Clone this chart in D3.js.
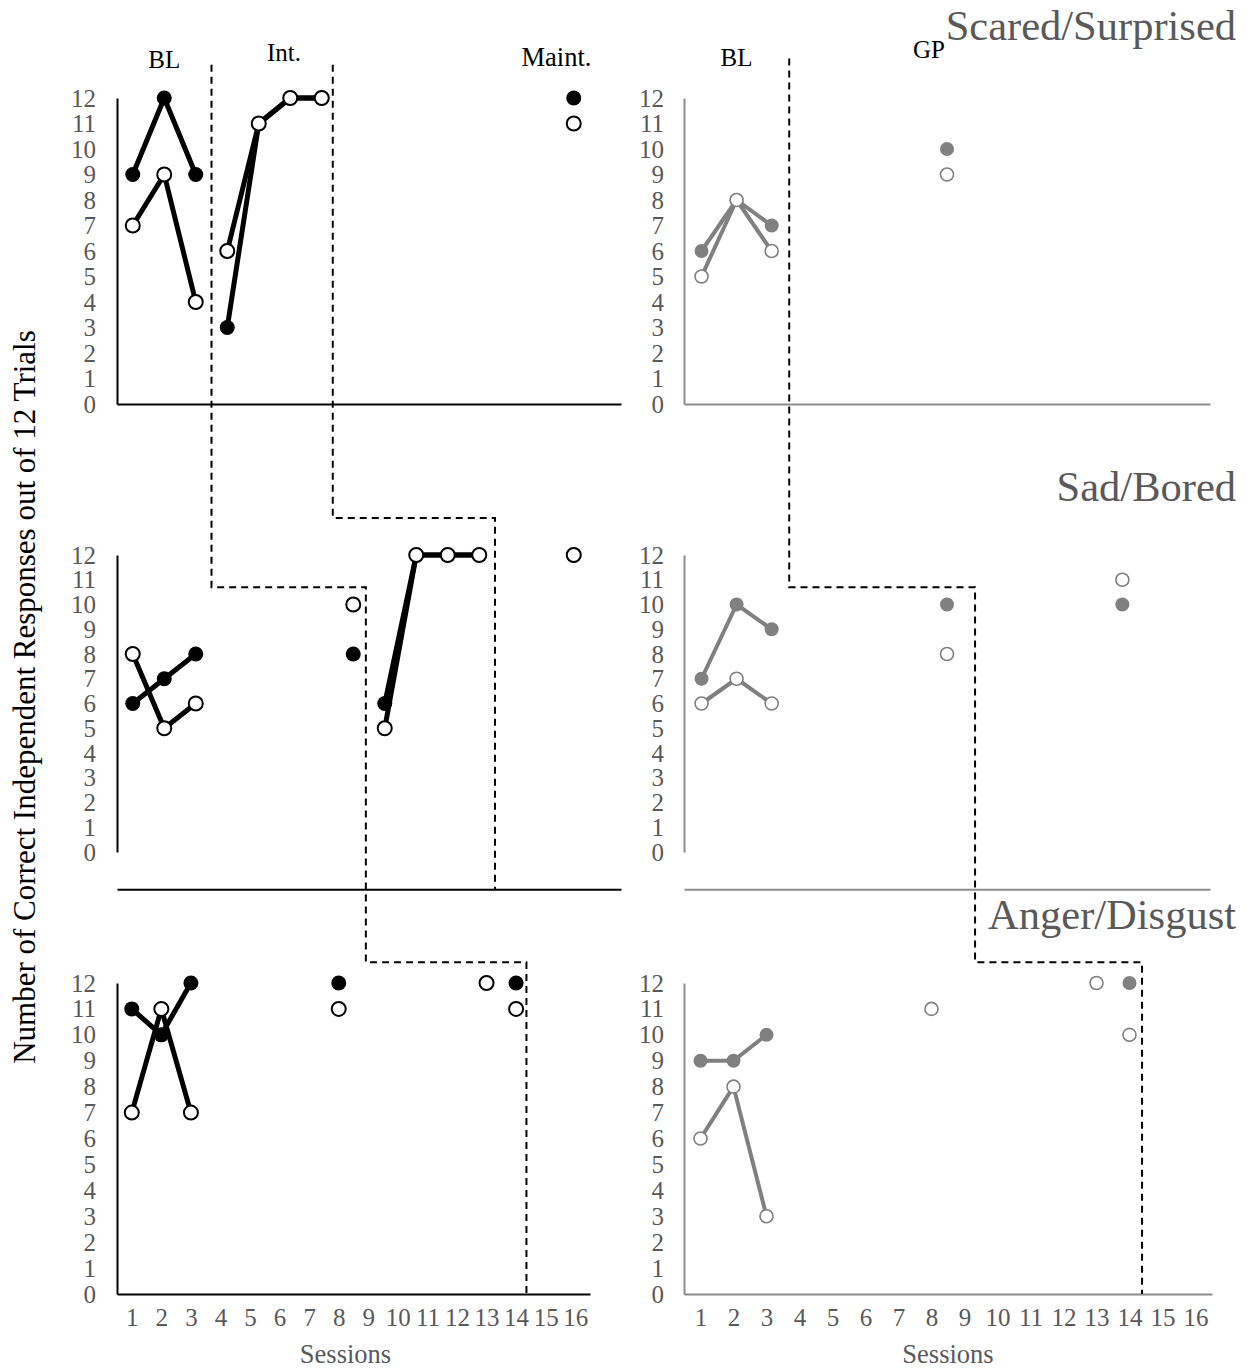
<!DOCTYPE html>
<html>
<head>
<meta charset="utf-8">
<style>
body { margin: 0; background: #fff; }
svg { font-family: "Liberation Serif", "Times New Roman", serif; }
.tick text { fill: #595959; font-size: 25px; font-family: "Liberation Serif", "Times New Roman", serif; }
.phase { fill: #000; font-size: 25px; text-anchor: middle; }
.emotion { fill: #595959; font-size: 42.5px; text-anchor: end; }
.dash { fill: none; stroke: #000; stroke-width: 2; stroke-dasharray: 7,5; }
</style>
</head>
<body>
<svg width="1247" height="1369"></svg>
<script src="https://cdn.jsdelivr.net/npm/d3@7/dist/d3.min.js"></script>
<script>
var emotions = ["Scared/Surprised", "Sad/Bored", "Anger/Disgust"];
var sessions = d3.range(1, 17);
var yTicks = d3.range(0, 13);

// one value per session 1..16, null = no session
// phase codes: B baseline, I intervention, M maintenance, P probe, - none
var scaredL_filled = [9, 12, 9, 3, 11, 12, 12, null, null, null, null, null, null, null, 12, null];
var scaredL_open   = [7, 9, 4, 6, 11, 12, 12, null, null, null, null, null, null, null, 11, null];
var scaredL_phase  = "BBBIIII-------M-";
var sadL_filled = [6, 7, 8, null, null, null, null, 8, 6, 12, 12, 12, null, null, 12, null];
var sadL_open   = [8, 5, 6, null, null, null, null, 10, 5, 12, 12, 12, null, null, 12, null];
var sadL_phase  = "BBB----PIIII--M-";
var angerL_filled = [11, 10, 12, null, null, null, null, 12, null, null, null, null, null, 12, null, null];
var angerL_open   = [7, 11, 7, null, null, null, null, 11, null, null, null, null, 12, 11, null, null];
var angerL_phase  = "BBB----P----PP--";

// GP
var scaredR_filled = [6, 8, 7, null, null, null, null, 10, null, null, null, null, null, null, null, null];
var scaredR_open   = [5, 8, 6, null, null, null, null, 9, null, null, null, null, null, null, null, null];
var scaredR_phase  = "BBB----P--------";
var sadR_filled = [7, 10, 9, null, null, null, null, 10, null, null, null, null, 10, null, null, null];
var sadR_open   = [6, 7, 6, null, null, null, null, 8, null, null, null, null, 11, null, null, null];
var sadR_phase  = "BBB----P----P---";
var angerR_filled = [9, 9, 10, null, null, null, null, null, null, null, null, null, null, 12, null, null];
var angerR_open   = [6, 8, 3, null, null, null, null, 11, null, null, null, null, 12, 10, null, null];
var angerR_phase  = "BBB----P----PP--";

// stepped phase-change lines: vertical at (row, session) down to (row, value)
var lineStartL = 13.3, lineStartR = 13.55;
var phaseLineA = [{row: 0, s: 3.5, to: [1, 10.7]}, {row: 1, s: 8.4, to: [2, 12.8]}, {row: 2, s: 14.35, to: [2, 0]}];
var phaseLineB = [{row: 0, s: 7.35, to: [1, 13.5]}, {row: 1, s: 12.5, to: [1, -1.5]}];
var phaseLineR = [{row: 0, s: 3.5, to: [1, 10.7]}, {row: 1, s: 8.8, to: [2, 12.8]}, {row: 2, s: 14.38, to: [2, 0]}];

var svg = d3.select("svg");

// geometry
var rowY = [[404, 98], [852, 555], [1294, 983]];
var rowFloor = [0, -1.5, 0];
var colX = [[[117, 621], [117, 621], [117, 590]], [[684, 1210], [684, 1210], [684, 1212]]];
var colCats = [[16, 16, 16], [15, 15, 16]];
var colStyle = [
  {line: "#000", mark: "#000", axis: "#000", width: 5, r: 7.5, ow: 2},
  {line: "#808080", mark: "#808080", axis: "#8c8c8c", width: 4, r: 7, ow: 1.6}
];
var data = [
  [[scaredL_filled, scaredL_open, scaredL_phase], [sadL_filled, sadL_open, sadL_phase], [angerL_filled, angerL_open, angerL_phase]],
  [[scaredR_filled, scaredR_open, scaredR_phase], [sadR_filled, sadR_open, sadR_phase], [angerR_filled, angerR_open, angerR_phase]]
];

var xs = [[], []], ys = [];
rowY.forEach(function(r, i) { ys[i] = d3.scaleLinear().domain([0, 12]).range(r); });

for (var c = 0; c < 2; c++) {
  for (var r = 0; r < 3; r++) {
    var x = d3.scaleLinear().domain([0.5, colCats[c][r] + 0.5]).range(colX[c][r]);
    xs[c][r] = x;
    var y = ys[r], st = colStyle[c];
    var g = svg.append("g");

    // y axis
    var ya = g.append("g")
        .attr("transform", "translate(" + colX[c][r][0] + ",0)")
        .call(d3.axisLeft(y).tickValues(yTicks).tickSize(0).tickPadding(c ? 20 : 21));
    ya.select(".domain").attr("stroke", st.axis).attr("stroke-width", 2);

    // x axis
    var xa = d3.axisBottom(x).tickValues(r == 2 ? sessions : []).tickSize(0).tickPadding(14);
    var xg = g.append("g")
        .attr("transform", "translate(0," + y(rowFloor[r]) + ")")
        .call(xa);
    xg.select(".domain").attr("stroke", st.axis).attr("stroke-width", 2);
    if (r == 2) {
      g.append("text")
          .attr("x", d3.mean(colX[c][r]) - (c ? 0 : 8))
          .attr("y", y(0) + 69)
          .attr("text-anchor", "middle")
          .attr("fill", "#595959")
          .style("font-size", "26.5px")
          .text("Sessions");
    }

    var d = data[c][r];
    [0, 1].forEach(function(k) {
      var vals = d[k], ph = d[2];
      var pts = sessions.map(function(s, i) { return {s: s, v: vals[i], p: ph[i]}; });
      var segs = [];
      for (var i = 0; i < 15; i++) {
        if (pts[i].v != null && pts[i + 1].v != null && pts[i].p == pts[i + 1].p && pts[i].p != "P")
          segs.push([pts[i], pts[i + 1]]);
      }
      g.selectAll(".seg" + k).data(segs).enter().append("path")
          .attr("fill", "none")
          .attr("stroke", st.line)
          .attr("stroke-width", st.width)
          .attr("stroke-linecap", "round")
          .attr("d", d3.line().x(function(p) { return x(p.s); }).y(function(p) { return y(p.v); }));
      g.selectAll(".dot" + k).data(pts.filter(function(p) { return p.v != null; })).enter().append("circle")
          .attr("cx", function(p) { return x(p.s); })
          .attr("cy", function(p) { return y(p.v); })
          .attr("r", k ? st.r - 0.5 : st.r)
          .attr("fill", k ? "#fff" : st.mark)
          .attr("stroke", st.mark)
          .attr("stroke-width", k ? st.ow : 0);
    });
  }
}

// phase-change lines
function phasePath(steps, col, start) {
  var p = "M" + xs[col][steps[0].row](steps[0].s) + "," + ys[0](start);
  steps.forEach(function(st, i) {
    if (i > 0) p += "H" + xs[col][st.row](st.s);
    p += "V" + ys[st.to[0]](st.to[1]);
  });
  return p;
}
svg.append("path").attr("class", "dash").attr("d", phasePath(phaseLineA, 0, lineStartL));
svg.append("path").attr("class", "dash").attr("d", phasePath(phaseLineB, 0, lineStartL));
svg.append("path").attr("class", "dash").attr("d", phasePath(phaseLineR, 1, lineStartR));

// phase labels
svg.append("text").attr("class", "phase").attr("x", xs[0][0](2)).attr("y", 68).text("BL");
svg.append("text").attr("class", "phase").attr("x", xs[0][0](5.8)).attr("y", 61).text("Int.");
svg.append("text").attr("class", "phase").attr("x", xs[0][0](14.45)).attr("y", 66).style("font-size", "26.5px").text("Maint.");
svg.append("text").attr("class", "phase").attr("x", xs[1][0](2)).attr("y", 66).text("BL");
svg.append("text").attr("class", "phase").attr("x", 929).attr("y", 58).text("GP");

// emotion titles
var titleY = [40, 501, 929];
emotions.forEach(function(e, i) {
  svg.append("text").attr("class", "emotion").attr("x", 1236).attr("y", titleY[i]).text(e);
});

// y title
svg.append("text")
    .attr("transform", "translate(35,697) rotate(-90)")
    .attr("text-anchor", "middle")
    .style("font-size", "31px")
    .attr("fill", "#000")
    .text("Number of Correct Independent Responses out of 12 Trials");
</script>
</body>
</html>
